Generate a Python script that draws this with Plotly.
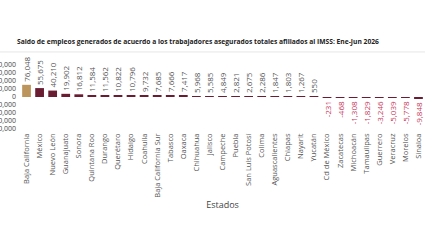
import plotly.graph_objects as go

estados = ["Baja California", "México", "Nuevo León", "Guanajuato", "Sonora", "Quintana Roo",
           "Durango", "Querétaro", "Hidalgo", "Coahuila", "Baja California Sur", "Tabasco",
           "Oaxaca", "Chihuahua", "Jalisco", "Campeche", "Puebla", "San Luis Potosí", "Colima",
           "Aguascalientes", "Chiapas", "Nayarit", "Yucatán", "Cd de México", "Zacatecas",
           "Michoacán", "Tamaulipas", "Guerrero", "Veracruz", "Morelos", "Sinaloa"]
saldo = [76048, 55675, 40210, 19902, 16812, 11584, 11562, 10822, 10796, 9732, 7685, 7666,
         7417, 5968, 5585, 4849, 2821, 2675, 2286, 1847, 1803, 1267, 550, -231, -468,
         -1308, -1829, -3246, -5039, -5778, -9848]
y_ticks = [200000, 150000, 100000, 50000, 0, -50000, -100000, -150000, -200000]

FONT = "Open Sans"
bar_colors = ["#bc955c"] + ["#691c32"] * (len(saldo) - 1)
text_colors = ["#555555" if v >= 0 else "#c8375a" for v in saldo]
texts = [f"{v:,}" for v in saldo]

fig = go.Figure(go.Bar(
    x=estados, y=saldo,
    marker=dict(color=bar_colors, line=dict(width=0)),
    text=texts, textposition="outside", textangle=-90,
    textfont=dict(family=FONT, size=8, color=text_colors),
    constraintext="none",
    cliponaxis=False,
))

fig.update_layout(
    width=425, height=250,
    margin=dict(l=20, r=0, t=55, b=119, autoexpand=False),
    paper_bgcolor="white", plot_bgcolor="white",
    bargap=0.33,
    showlegend=False,
    title=dict(text="<b>Saldo de empleos generados de acuerdo a los trabajadores asegurados totales afiliados al IMSS: Ene-Jun 2026</b>",
               x=0.04, xanchor="left", y=0.832, yanchor="middle",
               font=dict(family=FONT, size=6.7, color="#222222")),
    shapes=[dict(type="line", xref="paper", yref="paper", x0=-0.05, x1=1.0, y0=1.04, y1=1.04,
                 line=dict(color="#e6e6e6", width=1))],
)
fig.update_xaxes(
    tickangle=-90, tickfont=dict(family=FONT, size=7.5, color="#555555"),
    title=dict(text="Estados", font=dict(family=FONT, size=9, color="#444444"), standoff=5),
    showgrid=False, showline=False, ticks="", automargin=False,
)
fig.update_yaxes(
    range=[-212500, 262500], tickvals=y_ticks, tickformat=",",
    tickfont=dict(family=FONT, size=7, color="#444444"),
    ticklabelstandoff=3,
    showgrid=False, zeroline=False, showline=False, automargin=False,
)

fig.write_html("out.html")
